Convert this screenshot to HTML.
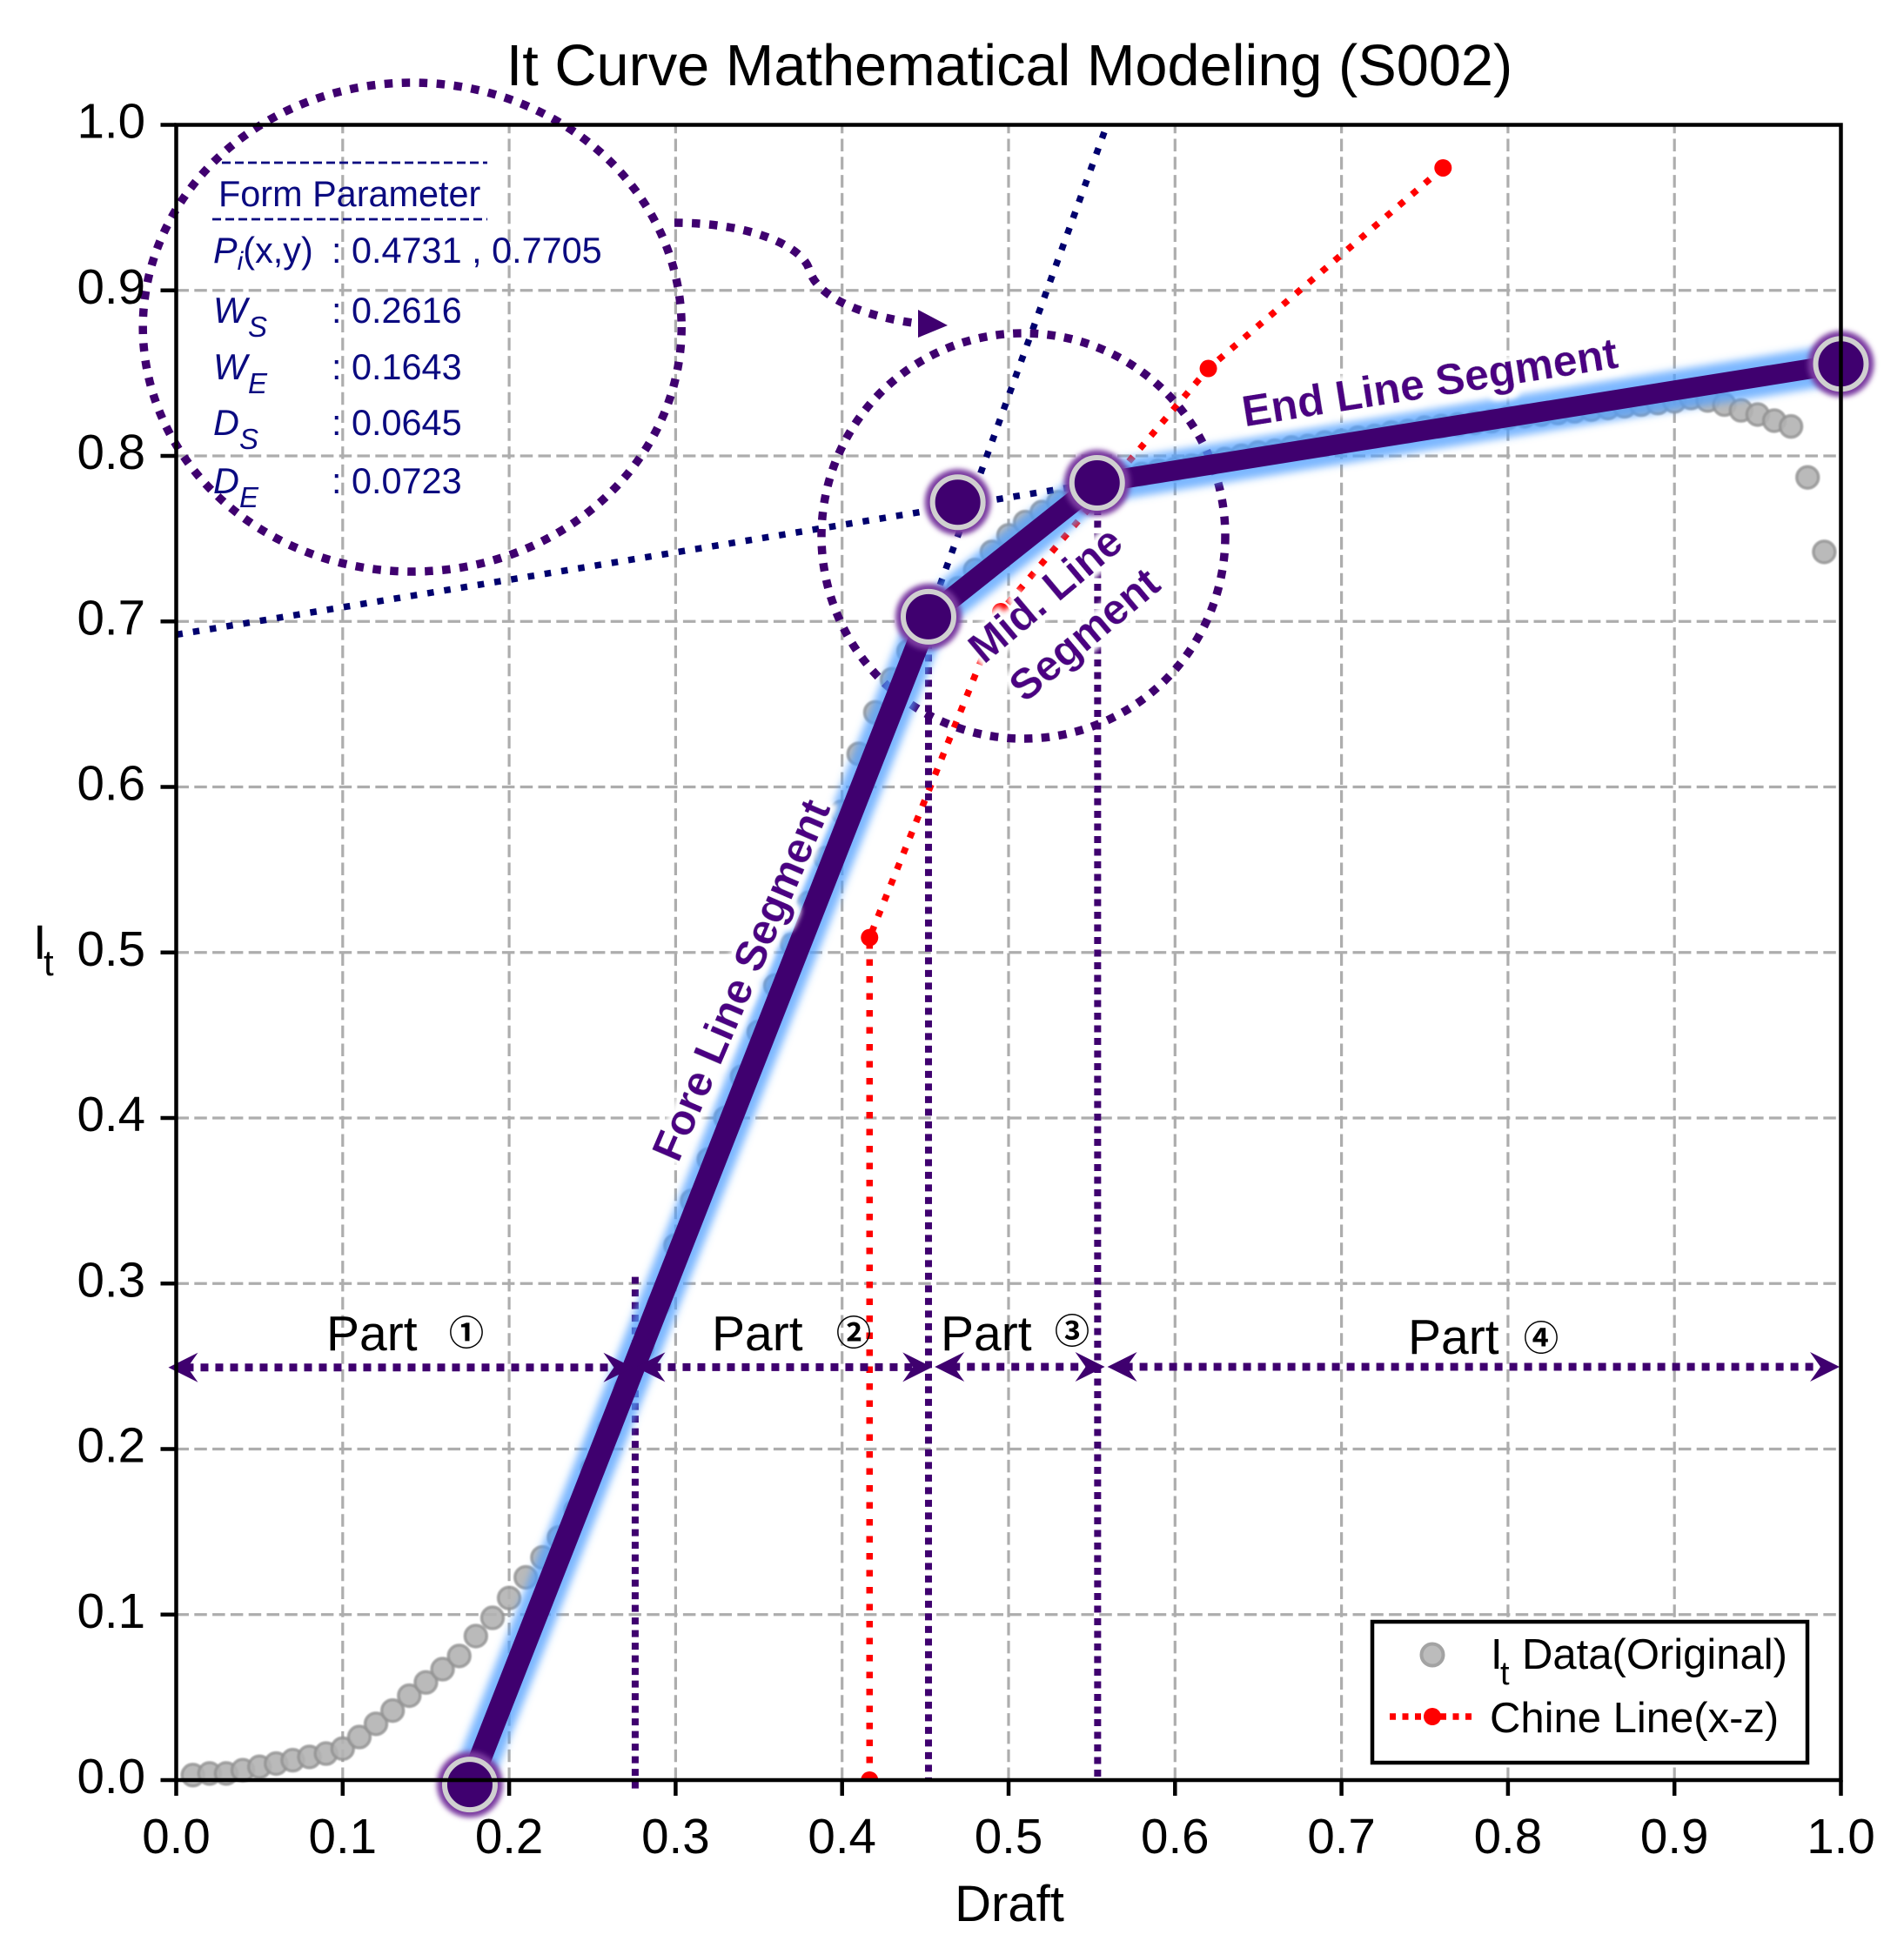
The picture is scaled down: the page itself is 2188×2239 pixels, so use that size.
<!DOCTYPE html>
<html lang="en">
<head>
<meta charset="utf-8">
<title>It Curve Mathematical Modeling (S002)</title>
<style>
html,body{margin:0;padding:0;background:#fff;}
svg{display:block;font-family:"Liberation Sans",Arial,sans-serif;}
</style>
</head>
<body>
<svg id="chart" xmlns="http://www.w3.org/2000/svg" width="2188" height="2239" viewBox="0 0 2188 2239">
  <defs>
    <clipPath id="plot-clip"><rect x="202.5" y="143.5" width="1913" height="1902.5"/></clipPath>
    <filter id="glow-blur" x="-20%" y="-20%" width="140%" height="140%"><feGaussianBlur stdDeviation="4.5"/></filter>
    <filter id="node-blur" x="-40%" y="-40%" width="180%" height="180%"><feGaussianBlur stdDeviation="3"/></filter>
    <filter id="soft" x="-20%" y="-20%" width="140%" height="140%"><feGaussianBlur stdDeviation="0.7"/></filter>
    <filter id="halo" x="-15%" y="-40%" width="130%" height="180%">
      <feMorphology in="SourceAlpha" operator="dilate" radius="6" result="d"/>
      <feGaussianBlur in="d" stdDeviation="3" result="b"/>
      <feFlood flood-color="#fff"/>
      <feComposite in2="b" operator="in" result="w"/>
      <feMerge><feMergeNode in="w"/><feMergeNode in="SourceGraphic"/></feMerge>
    </filter>
  </defs>
  <rect width="2188" height="2239" fill="#fff"/>
  <g id="grid"></g>
  <g id="scatter" filter="url(#soft)"></g>
  <g id="chine" clip-path="url(#plot-clip)"></g>
  <g id="tangents"></g>
  <g id="verticals"></g>
  <ellipse cx="473.7" cy="376" rx="309.5" ry="281" fill="none" stroke="#3f006f" stroke-width="9.5" stroke-dasharray="9.5 10.5"/>
  <ellipse cx="1176" cy="616" rx="232" ry="233" fill="none" stroke="#3f006f" stroke-width="9.5" stroke-dasharray="9.5 10.2"/>
  <path d="M775,256 C860,256 922,282 930,310 C940,345 1000,365 1056,372" fill="none" stroke="#3f006f" stroke-width="9.5" stroke-dasharray="9.5 10.5"/>
  <polygon points="1055,356 1089,374 1055,388" fill="#3f006f"/>
  <g id="fit-line"></g>
  <g id="nodes"></g>
  <g id="parts"></g>
  <g id="spines"></g>
  <g id="ticks"></g>

  <text x="1160" y="98" font-size="66.7" text-anchor="middle" fill="#000">It Curve Mathematical Modeling (S002)</text>
  <text x="1160" y="2208" font-size="58" text-anchor="middle" fill="#000">Draft</text>
  <text x="38" y="1102" font-size="56" fill="#000">I<tspan x="50" y="1121" font-size="42">t</tspan></text>

  <g fill="#0a0a80" font-size="41.4">
    <line x1="255" y1="187" x2="560" y2="187" stroke="#0a0a80" stroke-width="2.8" stroke-dasharray="10 5"/>
    <line x1="244" y1="252" x2="560" y2="252" stroke="#0a0a80" stroke-width="2.8" stroke-dasharray="10 5"/>
    <text x="251" y="237">Form Parameter</text>
    <text x="245" y="302"><tspan font-style="italic">P</tspan><tspan font-style="italic" font-size="30" dy="8">i</tspan><tspan dy="-8">(x,y)</tspan></text>
    <text x="381" y="302">: 0.4731 , 0.7705</text>
    <text x="245" y="371" font-style="italic">W<tspan x="285" y="387" font-size="33">S</tspan></text>
    <text x="381" y="371">: 0.2616</text>
    <text x="245" y="436" font-style="italic">W<tspan x="285" y="452" font-size="33">E</tspan></text>
    <text x="381" y="436">: 0.1643</text>
    <text x="245" y="500" font-style="italic">D<tspan x="275" y="516" font-size="33">S</tspan></text>
    <text x="381" y="500">: 0.0645</text>
    <text x="245" y="567" font-style="italic">D<tspan x="275" y="583" font-size="33">E</tspan></text>
    <text x="381" y="567">: 0.0723</text>
  </g>

  <g fill="#4b0082" font-weight="bold" text-anchor="middle">
    <text font-size="49.5" filter="url(#halo)" transform="translate(851,1126) rotate(-66.8)" dy=".35em">Fore Line Segment</text>
    <text font-size="50" filter="url(#halo)" transform="translate(1643,439) rotate(-9)" dy=".35em">End Line Segment</text>
    <text font-size="49" filter="url(#halo)" transform="translate(1201,683) rotate(-40)" dy=".35em">Mid. Line</text>
    <text font-size="49" filter="url(#halo)" transform="translate(1246,729) rotate(-40)" dy=".35em">Segment</text>
  </g>

  <g fill="#000" font-size="57">
    <text x="375" y="1552">Part</text>
    <text x="536" y="1546" font-size="40" font-weight="700" text-anchor="middle" font-family="'Noto Sans CJK JP',sans-serif">①</text>
    <text x="818" y="1552">Part</text>
    <text x="981" y="1546" font-size="40" font-weight="700" text-anchor="middle" font-family="'Noto Sans CJK JP',sans-serif">②</text>
    <text x="1081" y="1552">Part</text>
    <text x="1232" y="1544" font-size="40" font-weight="700" text-anchor="middle" font-family="'Noto Sans CJK JP',sans-serif">③</text>
    <text x="1618" y="1556">Part</text>
    <text x="1771" y="1552" font-size="40" font-weight="700" text-anchor="middle" font-family="'Noto Sans CJK JP',sans-serif">④</text>
  </g>

  <g>
    <rect x="1577" y="1864" width="500" height="162" fill="#fff" stroke="#000" stroke-width="4.5"/>
    <circle cx="1646" cy="1902" r="12.5" fill="#bcbcbc" stroke="#a3a3a3" stroke-width="4"/>
    <text x="1713" y="1918" font-size="49" fill="#000">I<tspan x="1724" y="1936" font-size="38">t</tspan><tspan x="1749" y="1918">Data(Original)</tspan></text>
    <line x1="1597" y1="1973" x2="1694" y2="1973" stroke="#f00" stroke-width="7.5" stroke-dasharray="7 7.5"/>
    <circle cx="1646" cy="1973" r="10" fill="#f00"/>
    <text x="1712" y="1991" font-size="49" fill="#000">Chine Line(x-z)</text>
  </g>
</svg>
<script>
const xTicks = [0.0, 0.1, 0.2, 0.3, 0.4, 0.5, 0.6, 0.7, 0.8, 0.9, 1.0];
const yTicks = [0.0, 0.1, 0.2, 0.3, 0.4, 0.5, 0.6, 0.7, 0.8, 0.9, 1.0];
const tickLabels = ["0.0", "0.1", "0.2", "0.3", "0.4", "0.5", "0.6", "0.7", "0.8", "0.9", "1.0"];
const draftValues = [0.01,0.02,0.03,0.04,0.05,0.06,0.07,0.08,0.09,0.10,0.11,0.12,0.13,0.14,0.15,0.16,0.17,0.18,0.19,0.20,0.21,0.22,0.23,0.24,0.25,0.26,0.27,0.28,0.29,0.30,0.31,0.32,0.33,0.34,0.35,0.36,0.37,0.38,0.39,0.40,0.41,0.42,0.43,0.44,0.45,0.46,0.47,0.48,0.49,0.50,0.51,0.52,0.53,0.54,0.55,0.56,0.57,0.58,0.59,0.60,0.61,0.62,0.63,0.64,0.65,0.66,0.67,0.68,0.69,0.70,0.71,0.72,0.73,0.74,0.75,0.76,0.77,0.78,0.79,0.80,0.81,0.82,0.83,0.84,0.85,0.86,0.87,0.88,0.89,0.90,0.91,0.92,0.93,0.94,0.95,0.96,0.97,0.98,0.99];
const itValues = [0.003,0.004,0.004,0.006,0.008,0.010,0.012,0.014,0.016,0.019,0.026,0.034,0.042,0.051,0.059,0.067,0.075,0.087,0.098,0.110,0.1225,0.1345,0.1466,0.163,0.188,0.212,0.237,0.261,0.2875,0.323,0.350,0.375,0.400,0.425,0.452,0.480,0.505,0.530,0.557,0.585,0.620,0.645,0.665,0.682,0.700,0.710,0.720,0.731,0.742,0.752,0.760,0.766,0.772,0.776,0.780,0.785,0.787,0.789,0.791,0.792,0.794,0.796,0.798,0.800,0.802,0.803,0.805,0.806,0.808,0.809,0.811,0.812,0.814,0.815,0.817,0.818,0.819,0.820,0.821,0.823,0.824,0.825,0.826,0.827,0.828,0.829,0.830,0.831,0.832,0.833,0.835,0.8335,0.831,0.8275,0.825,0.8213,0.8178,0.787,0.742];
const chineDraft = [0.4165, 0.4165, 0.4953, 0.620, 0.761];
const chineIt = [0.0, 0.509, 0.7059, 0.8528, 0.974];
const fitDraft = [0.1764, 0.4519, 0.5532, 1.0];
const fitIt = [-0.0027, 0.7028, 0.7837, 0.8556];
const intersectDraft = [0.4695];
const intersectIt = [0.772];
const tangentADraft = [0.0, 0.5532];
const tangentAIt = [0.692, 0.7837];
const tangentBDraft = [0.4519, 0.558];
const tangentBIt = [0.7028, 0.997];
const boundaryDraft = [0.2757, 0.4519, 0.5535];
const boundaryTop = [0.304, 0.7028, 0.7837];
const partEdges = [-0.0055, 0.2752, 0.4549, 0.5586, 1.0];
const partLevel = [0.2493, 0.2495, 0.2497, 0.2497];

const PLOT_LEFT = 202.5, PLOT_WIDTH = 1913, PLOT_BOTTOM = 2046, PLOT_HEIGHT = 1902.5;
const xScale = function (v) { return PLOT_LEFT + v * PLOT_WIDTH; };
const yScale = function (v) { return PLOT_BOTTOM - v * PLOT_HEIGHT; };
const SVG_NS = 'http://www.w3.org/2000/svg';
const layer = function (id) { return document.getElementById(id); };
const make = function (tag, parent, attrs) {
  const node = document.createElementNS(SVG_NS, tag);
  Object.keys(attrs).forEach(function (k) { node.setAttribute(k, attrs[k]); });
  parent.appendChild(node);
  return node;
};
const pointsOf = function (xs, ys) {
  return xs.map(function (x, i) { return xScale(x) + ',' + yScale(ys[i]); }).join(' ');
};

xTicks.forEach(function (t, i) {
  if (t > 0 && t < 1) {
    const g = make('line', layer('grid'), {x1: xScale(t), x2: xScale(t), y1: yScale(0), y2: yScale(1), stroke: '#adadad', 'stroke-width': 3.2, 'stroke-dasharray': '14.5 6.3'});
    
    
  }
  const tick = make('line', layer('ticks'), {x1: xScale(t), x2: xScale(t), y1: yScale(0), y2: yScale(0) + 18, stroke: '#000', 'stroke-width': 4.5});
  
  
  const label = make('text', layer('ticks'), {x: xScale(t), y: 2130, 'font-size': 56.5, 'text-anchor': 'middle', fill: '#000'});
  label.textContent = tickLabels[i];
  
  
});
yTicks.forEach(function (t, i) {
  if (t > 0 && t < 1) {
    const g = make('line', layer('grid'), {x1: xScale(0), x2: xScale(1), y1: yScale(t), y2: yScale(t), stroke: '#adadad', 'stroke-width': 3.2, 'stroke-dasharray': '14.5 6.3'});
    
    
  }
  const tick = make('line', layer('ticks'), {x1: xScale(0) - 18, x2: xScale(0), y1: yScale(t), y2: yScale(t), stroke: '#000', 'stroke-width': 4.5});
  
  
  const label = make('text', layer('ticks'), {x: 167, y: yScale(t) + 15, 'font-size': 56.5, 'text-anchor': 'end', fill: '#000'});
  label.textContent = tickLabels[i];
  
  
});

const frame = make('rect', layer('spines'), {x: xScale(0), y: yScale(1), width: PLOT_WIDTH, height: PLOT_HEIGHT, fill: 'none', stroke: '#000', 'stroke-width': 4.5});



draftValues.forEach(function (d, i) {
  const dot = make('circle', layer('scatter'), {cx: xScale(d), cy: yScale(itValues[i]), r: 12.5, fill: '#b2b2b2', 'fill-opacity': 0.9, stroke: '#929292', 'stroke-opacity': 0.8, 'stroke-width': 3.5});
  
  
});

const chinePath = make('polyline', layer('chine'), {points: pointsOf(chineDraft, chineIt), fill: 'none', stroke: '#f00', 'stroke-width': 7.5, 'stroke-dasharray': '7.5 12'});


chineDraft.forEach(function (d, i) {
  const dot = make('circle', layer('chine'), {cx: xScale(d), cy: yScale(chineIt[i]), r: 10, fill: '#f00'});
  
  
});

const tanA = make('polyline', layer('tangents'), {points: pointsOf(tangentADraft, tangentAIt), fill: 'none', stroke: '#00006e', 'stroke-width': 7.5, 'stroke-dasharray': '7.5 12'});


const tanB = make('polyline', layer('tangents'), {points: pointsOf(tangentBDraft, tangentBIt), fill: 'none', stroke: '#00006e', 'stroke-width': 7.5, 'stroke-dasharray': '7.5 12'});



boundaryDraft.forEach(function (d, i) {
  const overshoot = i === 0 ? 14 : 0;
  const v = make('line', layer('verticals'), {x1: xScale(d), x2: xScale(d), y1: yScale(boundaryTop[i]), y2: yScale(0) + overshoot, stroke: '#3f006f', 'stroke-width': 8, 'stroke-dasharray': '8 6.5'});
  
  
});

const fitGlow = make('polyline', layer('fit-line'), {points: pointsOf(fitDraft, fitIt), fill: 'none', stroke: '#4f9fff', 'stroke-opacity': 0.75, 'stroke-width': 46, 'stroke-linejoin': 'round', filter: 'url(#glow-blur)'});


const segmentWidth = function (i) { return i === 0 ? 26 : (i === 1 ? 24 : 23); };
fitDraft.slice(1).forEach(function (d, i) {
  const seg = make('line', layer('fit-line'), {x1: xScale(fitDraft[i]), y1: yScale(fitIt[i]), x2: xScale(d), y2: yScale(fitIt[i + 1]), stroke: '#3f006f', 'stroke-width': segmentWidth(i)});
  
  
});

const drawNode = function (d, v) {
  const halo = make('circle', layer('nodes'), {cx: xScale(d), cy: yScale(v), r: 38, fill: '#7a3aa0', filter: 'url(#node-blur)'});
  
  
  const disc = make('circle', layer('nodes'), {cx: xScale(d), cy: yScale(v), r: 29, fill: '#3f006f', stroke: '#d0d0d0', 'stroke-width': 6});
  
  
};
fitDraft.forEach(function (d, i) { drawNode(d, fitIt[i]); });
intersectDraft.forEach(function (d, i) { drawNode(d, intersectIt[i]); });

const drawHead = function (tipX, tipY, dir) {
  const head = make('polygon', layer('parts'), {points: [
    tipX + ',' + tipY,
    (tipX + dir * 34) + ',' + (tipY - 17),
    (tipX + dir * 22) + ',' + tipY,
    (tipX + dir * 34) + ',' + (tipY + 17)
  ].join(' '), fill: '#3f006f'});
  
  
};
partLevel.forEach(function (lvl, i) {
  const a = xScale(partEdges[i]) + 1.5;
  const b = xScale(partEdges[i + 1]) - 1.5;
  const shaft = make('line', layer('parts'), {x1: a + 20, x2: b - 20, y1: yScale(lvl), y2: yScale(lvl), stroke: '#3f006f', 'stroke-width': 9, 'stroke-dasharray': '9 8'});
  
  
  drawHead(a, yScale(lvl), 1);
  drawHead(b, yScale(lvl), -1);
});
</script>
</body>
</html>
